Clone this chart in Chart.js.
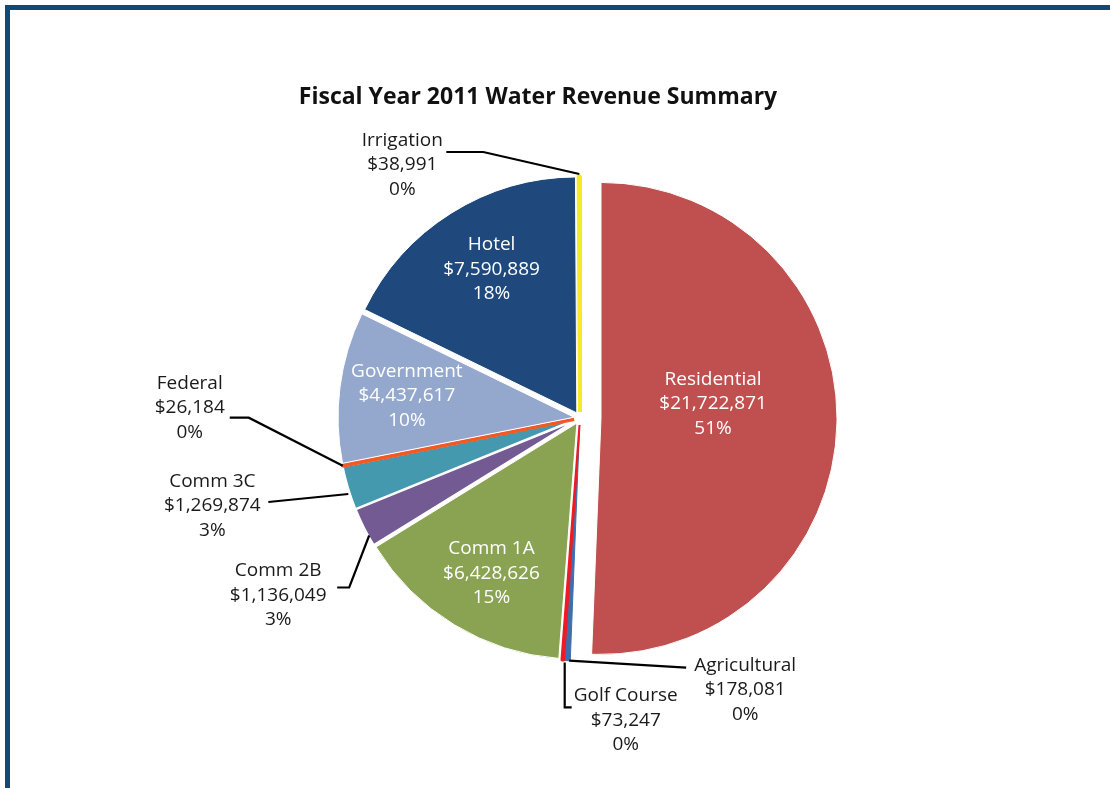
<!DOCTYPE html>
<html><head><meta charset="utf-8">
<script src="https://cdn.jsdelivr.net/npm/chart.js@4.4.1/dist/chart.umd.min.js"></script>
<style>
html,body{margin:0;padding:0;background:#fff;overflow:hidden;width:1110px;height:788px;}
#frame{position:absolute;left:5px;top:5px;width:1200px;height:900px;border-left:5px solid #0f4a7c;border-top:5px solid #0f4a7c;box-sizing:border-box;}
#wrap{position:absolute;left:0;top:0;width:1110px;height:788px;}
</style></head><body>
<div id="frame"></div>
<div id="wrap"><canvas id="c" width="1110" height="788"></canvas></div>
<script>
// ---- data ----
const chartTitle = 'Fiscal Year 2011 Water Revenue Summary';
const categories = ['Residential','Agricultural','Golf Course','Comm 1A','Comm 2B','Comm 3C','Federal','Government','Hotel','Irrigation'];
const revenues = [21722871,178081,73247,6428626,1136049,1269874,26184,4437617,7590889,38991];

// ---- styles ----
const sliceColors = ['#C0504F','#3F6FAB','#ED1C24','#8AA353','#735A93','#4599AF','#F15A22','#94A8CE','#1F497D','#F5E92B'];
const sliceExplode = [21,7,7,6,6,6,6,6,6,6];
const sliceBorderColors = ['#ffffff','#3F6FAB','#ED1C24','#ffffff','#ffffff','#ffffff','#F15A22','#ffffff','#ffffff','#F5E92B'];
const sliceBorderWidths = [1,1,2,1,1.5,1.5,3.5,1,1,4];

// label layout: inside labels at fraction of radius along mid-angle; outside labels relative to arc edge anchor
const labelLayout = [
  {inside:true, frac:0.475, dx:0, dy:-17},
  {inside:false, path:[[2,0],[119,7]], text:[178,29]},
  {inside:false, path:[[2,2],[2,47],[9,47]], text:[63,60]},
  {inside:true, frac:0.72, dx:3, dy:5},
  {inside:false, path:[[5,8],[-15,60],[-27,60]], text:[-86,68]},
  {inside:false, path:[[0,6],[-80,14]], text:[-136,18]},
  {inside:false, path:[[0,0],[-94,-48],[-113,-48]], text:[-153,-58]},
  {inside:true, frac:0.71, dx:-1, dy:0},
  {inside:true, frac:0.71, dx:4, dy:-2},
  {inside:false, path:[[0,-2],[-96,-24],[-133,-24]], text:[-177,-11]}
];

const total = revenues.reduce((a,b)=>a+b,0);
const fmtMoney = v => '$' + v.toLocaleString('en-US');
const fmtPct = v => Math.round(v/total*100) + '%';

// exploded slices: translate each arc along its mid-angle (pure translation, radius unchanged)
const ArcEl = (Chart.elements && Chart.elements.ArcElement) || Chart.registry.getElement('arc');
const baseArcDraw = ArcEl.prototype.draw;
ArcEl.prototype.draw = function(ctx, area){
  const t = this.$explode || 0;
  if (!t) return baseArcDraw.call(this, ctx, area);
  const mid = (this.startAngle + this.endAngle) / 2;
  ctx.save();
  ctx.translate(Math.cos(mid) * t, Math.sin(mid) * t);
  baseArcDraw.call(this, ctx, area);
  ctx.restore();
};
const explodePlugin = {
  id:'explode',
  beforeDatasetsDraw(chart){
    chart.getDatasetMeta(0).data.forEach((a, i) => { a.$explode = sliceExplode[i]; });
  }
};

const labelPlugin = {
  id:'sliceLabels',
  afterDatasetsDraw(chart){
    const ctx = chart.ctx;
    const meta = chart.getDatasetMeta(0);
    const lh = 24.5;
    ctx.save();
    ctx.font = '19px "Open Sans"';
    ctx.textAlign = 'center';
    ctx.textBaseline = 'middle';
    meta.data.forEach((arc, i) => {
      const p = arc.getProps(['x','y','startAngle','endAngle','outerRadius'], true);
      const mid = (p.startAngle + p.endAngle) / 2;
      const off = sliceExplode[i];
      const ox = p.x + Math.cos(mid) * off, oy = p.y + Math.sin(mid) * off;
      const L = labelLayout[i];
      const lines = [categories[i], fmtMoney(revenues[i]), fmtPct(revenues[i])];
      let tx, ty;
      if (L.inside) {
        tx = ox + Math.cos(mid) * p.outerRadius * L.frac + L.dx;
        ty = oy + Math.sin(mid) * p.outerRadius * L.frac + L.dy;
        ctx.fillStyle = '#ffffff';
      } else {
        const ax = ox + Math.cos(mid) * p.outerRadius, ay = oy + Math.sin(mid) * p.outerRadius;
        ctx.strokeStyle = '#000000';
        ctx.lineWidth = 2.2;
        ctx.beginPath();
        L.path.forEach((pt, k) => { if (k === 0) ctx.moveTo(ax + pt[0], ay + pt[1]); else ctx.lineTo(ax + pt[0], ay + pt[1]); });
        ctx.stroke();
        tx = ax + L.text[0]; ty = ay + L.text[1];
        ctx.fillStyle = '#1a1a1a';
      }
      lines.forEach((s, k) => ctx.fillText(s, tx, ty + (k - 1) * lh));
    });
    ctx.restore();
  }
};

const titlePlugin = {
  id:'customTitle',
  afterDraw(chart){
    const ctx = chart.ctx;
    ctx.save();
    ctx.font = 'bold 23px "Open Sans"';
    ctx.fillStyle = '#111111';
    ctx.textAlign = 'center';
    ctx.textBaseline = 'middle';
    ctx.fillText(chartTitle, 538, 97);
    ctx.restore();
  }
};

new Chart(document.getElementById('c'), {
  type:'pie',
  data:{
    labels: categories,
    datasets:[{
      data: revenues,
      backgroundColor: sliceColors,
      borderColor: sliceBorderColors,
      borderWidth: sliceBorderWidths,
      offset: 0,
      borderAlign:'center'
    }]
  },
  options:{
    responsive:false,
    devicePixelRatio:1,
    animation:false,
    events:[],
    radius:236,
    layout:{padding:{left:98,right:48,top:100,bottom:52}},
    plugins:{legend:{display:false},tooltip:{enabled:false},title:{display:false}}
  },
  plugins:[explodePlugin, labelPlugin, titlePlugin]
});
</script>
</body></html>
